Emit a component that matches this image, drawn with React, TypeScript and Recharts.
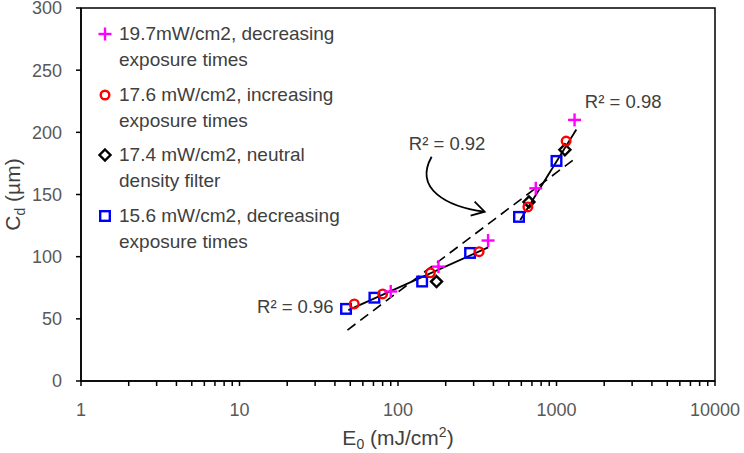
import React from "react";
import {
  ScatterChart,
  Scatter,
  XAxis,
  YAxis,
  ReferenceArea,
  ReferenceDot,
  Legend,
} from "recharts";

document.body.style.margin = "0";

const FONT = "'Liberation Sans', Arial, sans-serif";
const TEXT = "#404040";

// measured points, E0 (mJ/cm2) vs Cd (um)
const s197 = [
  { e: 90, cd: 72 },
  { e: 180, cd: 92 },
  { e: 370, cd: 113 },
  { e: 740, cd: 155 },
  { e: 1300, cd: 210 },
];
const s176 = [
  { e: 53, cd: 62 },
  { e: 80, cd: 70 },
  { e: 160, cd: 87 },
  { e: 325, cd: 104 },
  { e: 660, cd: 140 },
  { e: 1150, cd: 193 },
];
const s174 = [
  { e: 175, cd: 80 },
  { e: 670, cd: 144 },
  { e: 1130, cd: 186 },
];
const s156 = [
  { e: 47, cd: 58 },
  { e: 71, cd: 67 },
  { e: 142, cd: 80 },
  { e: 285, cd: 103 },
  { e: 580, cd: 132 },
  { e: 1000, cd: 177 },
];

// trendline end points
const fitLow = [
  { e: 48.6, cd: 57 },
  { e: 371, cd: 107.5 },
];
const fitHigh = [
  { e: 591, cd: 129.5 },
  { e: 1334, cd: 202.3 },
];
const fitAll = [
  { e: 48, cd: 41 },
  { e: 1282, cd: 178 },
];

const xMajor = [1, 10, 100, 1000, 10000];
const xTicks = [
  1, 2, 3, 4, 5, 6, 7, 8, 9,
  10, 20, 30, 40, 50, 60, 70, 80, 90,
  100, 200, 300, 400, 500, 600, 700, 800, 900,
  1000, 2000, 3000, 4000, 5000, 6000, 7000, 8000, 9000,
  10000,
];
const yTicks = [0, 50, 100, 150, 200, 250, 300];

const r2Labels = [
  { text: "R² = 0.98", e: 1510, cd: 225 },
  { text: "R² = 0.92", e: 117, cd: 191 },
  { text: "R² = 0.96", e: 12.9, cd: 59.8 },
];
const arrowFrom = { e: 163, cd: 180.4 };

const legendItems = [
  { kind: "plus", color: "#ff00ff", lines: ["19.7mW/cm2, decreasing", "exposure times"] },
  { kind: "circle", color: "#ff0000", lines: ["17.6 mW/cm2, increasing", "exposure times"] },
  { kind: "diamond", color: "#000000", lines: ["17.4 mW/cm2, neutral", "density filter"] },
  { kind: "square", color: "#0000ff", lines: ["15.6 mW/cm2, decreasing", "exposure times"] },
];

function Marker({ kind, color, cx, cy }: any) {
  const sw = 2.4;
  if (kind === "plus") {
    return (
      <g stroke={color} strokeWidth={sw}>
        <line x1={cx - 6.5} y1={cy} x2={cx + 6.5} y2={cy} />
        <line x1={cx} y1={cy - 6.5} x2={cx} y2={cy + 6.5} />
      </g>
    );
  }
  if (kind === "circle") {
    return <circle cx={cx} cy={cy} r={4.3} fill="none" stroke={color} strokeWidth={sw} />;
  }
  if (kind === "diamond") {
    return (
      <path
        d={`M${cx} ${cy - 5.5}L${cx + 5.5} ${cy}L${cx} ${cy + 5.5}L${cx - 5.5} ${cy}Z`}
        fill="none"
        stroke={color}
        strokeWidth={sw}
      />
    );
  }
  return <rect x={cx - 4.8} y={cy - 4.8} width={9.6} height={9.6} fill="none" stroke={color} strokeWidth={sw} />;
}

const shapeOf = (kind: string, color: string) => (p: any) => (
  <Marker kind={kind} color={color} cx={p.cx} cy={p.cy} />
);

const noDot = () => <g />;

function LegendBox() {
  return (
    <div style={{ fontFamily: FONT, fontSize: 19, color: TEXT }}>
      {legendItems.map((it) => (
        <div key={it.lines[0]} style={{ display: "flex", marginBottom: 8.5 }}>
          <svg width={16} height={26} style={{ flex: "none", marginRight: 6 }}>
            <Marker kind={it.kind} color={it.color} cx={8} cy={13} />
          </svg>
          <div style={{ lineHeight: "26px", whiteSpace: "nowrap" }}>
            <div>{it.lines[0]}</div>
            <div>{it.lines[1]}</div>
          </div>
        </div>
      ))}
    </div>
  );
}

function XTitle({ viewBox }: any) {
  const cx = viewBox.x + viewBox.width / 2;
  return (
    <text x={cx} y={445} textAnchor="middle" fill={TEXT} fontFamily={FONT} fontSize={21}>
      E<tspan dy={4} fontSize={14}>0</tspan>
      <tspan dy={-4}> (mJ/cm</tspan>
      <tspan dy={-8} fontSize={14}>2</tspan>
      <tspan dy={8}>)</tspan>
    </text>
  );
}

function YTitle({ viewBox }: any) {
  const cy = viewBox.y + viewBox.height / 2;
  return (
    <text
      x={0}
      y={0}
      transform={`translate(20 ${cy}) rotate(-90)`}
      textAnchor="middle"
      fill={TEXT}
      fontFamily={FONT}
      fontSize={21}
    >
      C<tspan dy={5} fontSize={14}>d</tspan>
      <tspan dy={-5}> (µm)</tspan>
    </text>
  );
}

const r2Shape = (text: string) => (p: any) => (
  <text x={p.cx} y={p.cy} dominantBaseline="central" fill={TEXT} fontFamily={FONT} fontSize={18.5}>
    {text}
  </text>
);

const arrowShape = (p: any) => {
  const { cx, cy } = p;
  const tx = cx + 53;
  const ty = cy + 55;
  return (
    <g fill="none" stroke="#000" strokeWidth={1.8}>
      <path d={`M${cx} ${cy} C${cx - 18} ${cy + 32} ${cx + 15} ${cy + 50} ${tx} ${ty}`} />
      <path d={`M${tx - 10} ${ty - 10} L${tx} ${ty} L${tx - 14} ${ty + 4}`} />
    </g>
  );
};

export default function App() {
  const tickStyle = { fill: "#595959", fontSize: 18, fontFamily: FONT };
  return (
    <ScatterChart width={744} height={453} margin={{ top: 8, right: 29, bottom: 0, left: 0 }}>
      <XAxis
        type="number"
        dataKey="e"
        scale="log"
        domain={[1, 10000]}
        ticks={xTicks}
        interval={0}
        allowDataOverflow
        height={72}
        tick={tickStyle}
        tickSize={5}
        tickMargin={17}
        tickFormatter={(v: number) => (xMajor.includes(v) ? String(v) : "")}
        axisLine={{ stroke: "#000", strokeWidth: 1.5 }}
        tickLine={{ stroke: "#000", strokeWidth: 1.5 }}
        label={<XTitle />}
      />
      <YAxis
        type="number"
        dataKey="cd"
        domain={[0, 300]}
        ticks={yTicks}
        interval={0}
        width={81}
        tick={tickStyle}
        tickSize={5}
        tickMargin={14}
        axisLine={{ stroke: "#000", strokeWidth: 1.5 }}
        tickLine={{ stroke: "#000", strokeWidth: 1.5 }}
        label={<YTitle />}
      />
      <ReferenceArea x1={1} x2={10000} y1={0} y2={300} fill="none" stroke="#000" strokeWidth={1.5} />

      <Scatter data={fitAll} shape={noDot} line={{ stroke: "#000", strokeWidth: 1.6, strokeDasharray: "10 6" }} legendType="none" isAnimationActive={false} />
      <Scatter data={fitLow} shape={noDot} line={{ stroke: "#000", strokeWidth: 1.8 }} legendType="none" isAnimationActive={false} />
      <Scatter data={fitHigh} shape={noDot} line={{ stroke: "#000", strokeWidth: 1.8 }} legendType="none" isAnimationActive={false} />

      <Scatter data={s156} shape={shapeOf("square", "#0000ff")} isAnimationActive={false} />
      <Scatter data={s174} shape={shapeOf("diamond", "#000000")} isAnimationActive={false} />
      <Scatter data={s176} shape={shapeOf("circle", "#ff0000")} isAnimationActive={false} />
      <Scatter data={s197} shape={shapeOf("plus", "#ff00ff")} isAnimationActive={false} />

      {r2Labels.map((l) => (
        <ReferenceDot key={l.text} x={l.e} y={l.cd} r={0} shape={r2Shape(l.text)} />
      ))}
      <ReferenceDot x={arrowFrom.e} y={arrowFrom.cd} r={0} shape={arrowShape} />

      <Legend
        layout="vertical"
        align="center"
        verticalAlign="middle"
        content={() => <LegendBox />}
        wrapperStyle={{ left: 97, top: 21, width: "auto" }}
      />
    </ScatterChart>
  );
}
